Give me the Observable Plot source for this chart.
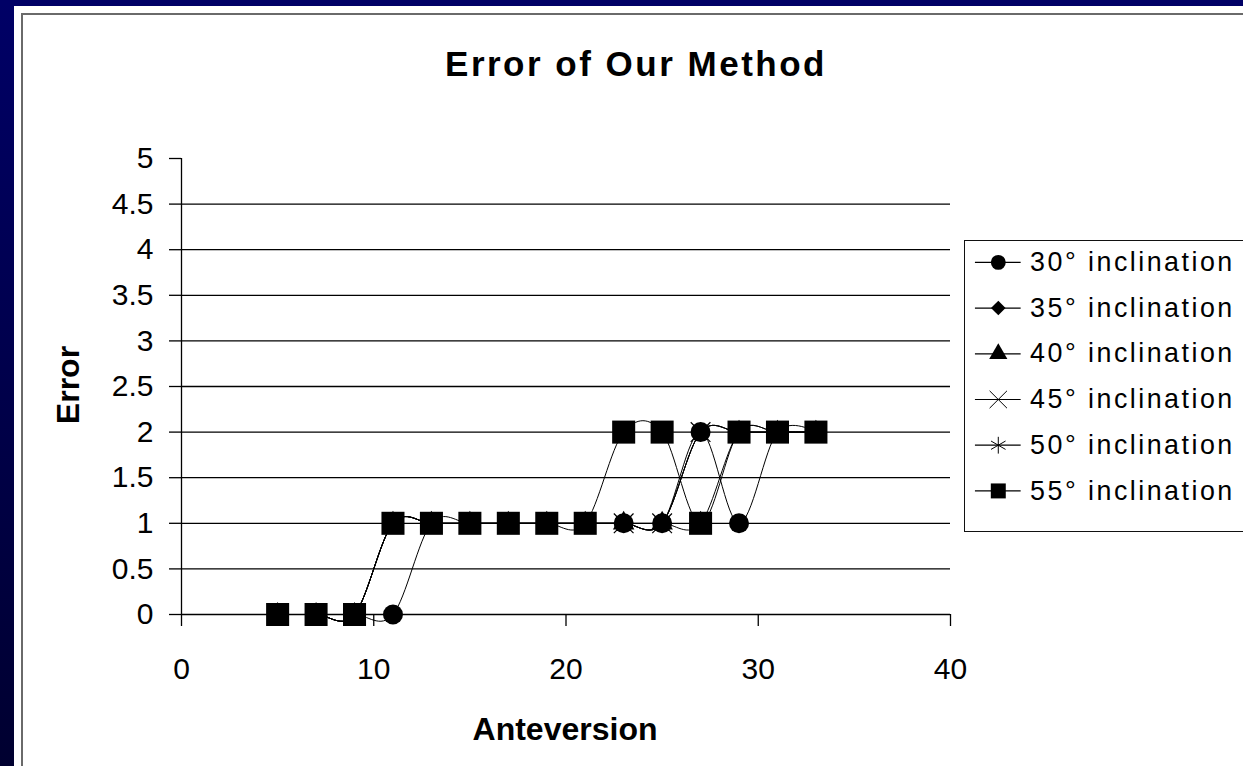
<!DOCTYPE html>
<html>
<head>
<meta charset="utf-8">
<script src="https://cdn.jsdelivr.net/npm/d3@7"></script>
<script src="https://cdn.jsdelivr.net/npm/@observablehq/plot@0.6"></script>
<style>
  html, body { margin: 0; padding: 0; width: 1243px; height: 766px; overflow: hidden; background: #fff; }
  #page { position: relative; width: 1243px; height: 766px; overflow: hidden; background: #fff; font-family: "Liberation Sans", Arial, sans-serif; color: #000; }
  .abs { position: absolute; }
  #leftbar { left: 0; top: 0; width: 14px; height: 766px; background: linear-gradient(#000066, #000030); }
  #topbar { left: 0; top: 0; width: 1243px; height: 6px; background: #000066; }
  #frame { left: 21px; top: 13px; width: 1400px; height: 900px; border: 2px solid #6a6a6a; box-sizing: border-box; }
  #title { left: 336px; top: 46px; width: 600px; text-align: center; font-size: 35px; line-height: 35px; font-weight: bold; letter-spacing: 2.5px; white-space: nowrap; }
  #xlabel { left: 365px; top: 713px; width: 400px; text-align: center; font-size: 32px; line-height: 32px; font-weight: bold; white-space: nowrap; }
  #ylabel { left: -32.5px; top: 369px; width: 200px; text-align: center; font-size: 32px; line-height: 32px; font-weight: bold; transform: rotate(-90deg); white-space: nowrap; }
  #legend { left: 964px; top: 240px; width: 320px; height: 292px; border: 1.5px solid #111; box-sizing: border-box; background: #fff; }
</style>
</head>
<body>
<div id="page">
  <div id="frame" class="abs"></div>
  <div id="chart" class="abs" style="left:0;top:0;"></div>
  <div id="leftbar" class="abs"></div>
  <div id="topbar" class="abs"></div>
  <div id="title" class="abs">Error of Our Method</div>
  <div id="xlabel" class="abs">Anteversion</div>
  <div id="ylabel" class="abs">Error</div>
  <div id="legend" class="abs"></div>
</div>
<script>
// ---- Data ----
const anteversion = [5, 7, 9, 11, 13, 15, 17, 19, 21, 23, 25, 27, 29, 31, 33];
const seriesNames = ["30° inclination", "35° inclination", "40° inclination", "45° inclination", "50° inclination", "55° inclination"];
const error30 = [0, 0, 0, 0, 1, 1, 1, 1, 1, 1, 1, 2, 1, 2, 2];
const error35 = [0, 0, 0, 1, 1, 1, 1, 1, 1, 1, 1, 2, 2, 2, 2];
const error40 = [0, 0, 0, 1, 1, 1, 1, 1, 1, 1, 1, 1, 2, 2, 2];
const error45 = [0, 0, 0, 1, 1, 1, 1, 1, 1, 1, 1, 2, 2, 2, 2];
const error50 = [0, 0, 0, 1, 1, 1, 1, 1, 1, 1, 1, 2, 2, 2, 2];
const error55 = [0, 0, 0, 1, 1, 1, 1, 1, 1, 2, 2, 1, 2, 2, 2];
const xTicks = [0, 10, 20, 30, 40];
const yTicks = [0, 0.5, 1, 1.5, 2, 2.5, 3, 3.5, 4, 4.5, 5];
const gridValues = [0.5, 1, 1.5, 2, 2.5, 3, 3.5, 4, 4.5];

const seriesErrors = [error30, error35, error40, error45, error50, error55];
// marker styles per series (Excel-like)
const markerStyle = [
  {symbol: "circle",   r: 10,  fill: "black", stroke: "none", lr: 7.5},
  {symbol: "diamond2", r: 8,   fill: "black", stroke: "none", lr: 6.6},
  {symbol: "triangle", r: 8,   fill: "black", stroke: "none", lr: 6.8},
  {symbol: "times",    r: 9,   fill: "none",  stroke: "black", lr: 8},
  {symbol: "asterisk", r: 9,   fill: "none",  stroke: "black", lr: 8},
  {symbol: "square",   r: 13,  fill: "black", stroke: "none", lr: 8.5}
];

const rows = [];
seriesNames.forEach((name, i) => {
  anteversion.forEach((a, j) => rows.push({series: name, x: a, y: seriesErrors[i][j]}));
});

const font = "font-family: 'Liberation Sans', Arial, sans-serif;";

const dotMarks = seriesNames.map((name, i) => {
  const s = markerStyle[i];
  return Plot.dot(rows.filter(d => d.series === name), {
    x: "x", y: "y", symbol: s.symbol, r: s.r,
    fill: s.fill, stroke: s.stroke, strokeWidth: 1.2
  });
});

const chart = Plot.plot({
  width: 1243,
  height: 766,
  marginLeft: 181,
  marginRight: 293,
  marginTop: 158,
  marginBottom: 152,
  style: "background: transparent; color: black; overflow: visible; " + font,
  x: {domain: [0, 40]},
  y: {domain: [0, 5]},
  marks: [
    Plot.ruleY(gridValues, {stroke: "black", strokeWidth: 1.3}),
    Plot.ruleY([0], {stroke: "black", strokeWidth: 1.3}),
    Plot.ruleX([0], {stroke: "black", strokeWidth: 1.3}),
    Plot.axisY({ticks: yTicks, tickSize: 12, tickPadding: 16, fontSize: 30, label: null, strokeWidth: 1.3, tickFormat: d => String(d)}),
    Plot.axisX({ticks: xTicks, tickSize: 12, tickPadding: 31, fontSize: 30, label: null, strokeWidth: 1.3, tickFormat: d => String(d)}),
    Plot.line(rows, {x: "x", y: "y", z: "series", curve: "cardinal", tension: 0, stroke: "black", strokeWidth: 1}),
    ...dotMarks
  ]
});
document.getElementById("chart").appendChild(chart);

// ---- Legend ----
const legendDots = seriesNames.map((name, i) => {
  const s = markerStyle[i];
  return Plot.dot([name], {
    x: 0.5, y: d => d, symbol: s.symbol, r: s.lr,
    fill: s.fill, stroke: s.stroke, strokeWidth: 1
  });
});
const legend = Plot.plot({
  width: 320,
  height: 289,
  margin: 0,
  style: "background: transparent; color: black; overflow: visible; letter-spacing: 2.5px; " + font,
  x: {domain: [0, 1], range: [10, 56], axis: null},
  y: {type: "point", domain: seriesNames, range: [21, 251], padding: 0, axis: null},
  marks: [
    Plot.ruleY(seriesNames, {y: d => d, x1: 0, x2: 1, stroke: "black", strokeWidth: 1.2}),
    ...legendDots,
    Plot.text(seriesNames, {y: d => d, x: 1, dx: 9, text: d => d, textAnchor: "start", fontSize: 27, fill: "black"})
  ]
});
document.getElementById("legend").appendChild(legend);
</script>
</body>
</html>
